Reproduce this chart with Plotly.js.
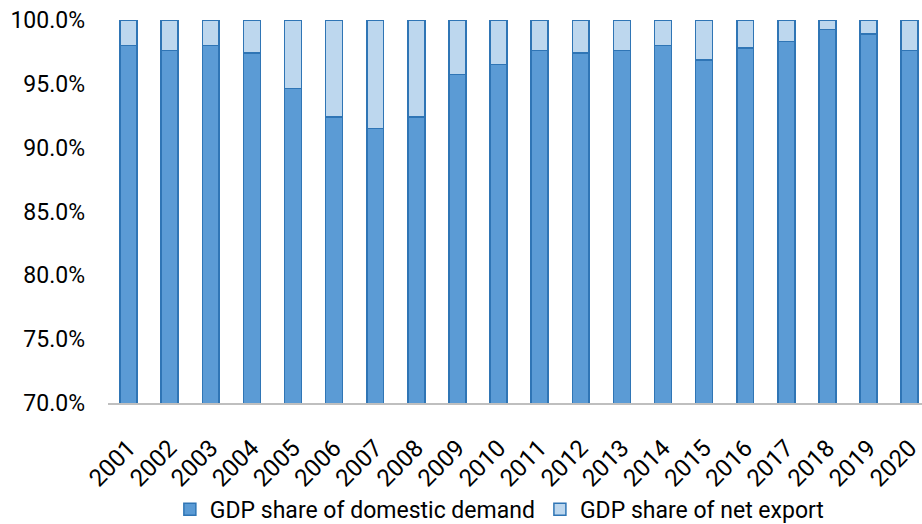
<!DOCTYPE html>
<html>
<head>
<meta charset="utf-8">
<script src="https://cdn.plot.ly/plotly-3.0.1.min.js"></script>
<style>html,body{margin:0;padding:0;background:#fff;}#chart{width:922px;height:524px;}</style>
</head>
<body>
<div id="chart"></div>
<script>
const years = ["2001","2002","2003","2004","2005","2006","2007","2008","2009","2010","2011","2012","2013","2014","2015","2016","2017","2018","2019","2020"];
const domesticDemand = [98.0, 97.6, 98.0, 97.4, 94.65, 92.4, 91.5, 92.4, 95.75, 96.5, 97.6, 97.4, 97.6, 98.0, 96.85, 97.8, 98.3, 99.25, 98.9, 97.6];
const netExport = [2.0, 2.4, 2.0, 2.6, 5.35, 7.6, 8.5, 7.6, 4.25, 3.5, 2.4, 2.6, 2.4, 2.0, 3.15, 2.2, 1.7, 0.75, 1.1, 2.4];
const seriesNames = ["GDP share of domestic demand", "GDP share of net export"];
const yTickVals = [70, 75, 80, 85, 90, 95, 100];
const yTickText = ["70.0%", "75.0%", "80.0%", "85.0%", "90.0%", "95.0%", "100.0%"];

const fontFamily = "Roboto, 'Liberation Sans', Arial, sans-serif";

const traces = [
  {
    type: "bar", x: years, y: domesticDemand, name: seriesNames[0],
    marker: {color: "#5b9bd5", line: {color: "#2f75b5", width: 1.5}},
    hoverinfo: "skip"
  },
  {
    type: "bar", x: years, y: netExport, name: seriesNames[1],
    marker: {color: "#bdd7ee", line: {color: "#2f75b5", width: 1.5}},
    hoverinfo: "skip"
  }
];

const layout = {
  width: 922, height: 524,
  margin: {l: 108, r: 0, t: 20, b: 121, autoexpand: false},
  barmode: "stack",
  bargap: 0.59,
  paper_bgcolor: "#fff", plot_bgcolor: "#fff",
  font: {family: fontFamily, color: "#000", size: 23},
  showlegend: true,
  legend: {orientation: "h", x: 0.4814, xanchor: "center", yref: "container", y: 0.028, yanchor: "middle",
           font: {size: 23, family: fontFamily, color: "#000"}, traceorder: "normal", itemwidth: 30},
  xaxis: {
    type: "category", range: [-0.5, 19.3],
    showgrid: false, zeroline: false,
    showline: true, linecolor: "#bfbfbf", linewidth: 1.5,
    ticks: "", tickangle: -45, ticklabelstandoff: 20,
    tickfont: {size: 24, family: fontFamily, color: "#000"}
  },
  yaxis: {
    range: [70, 100], showgrid: false, zeroline: false, showline: false,
    tickvals: yTickVals, ticktext: yTickText,
    ticklabelstandoff: 22,
    tickfont: {size: 23, family: fontFamily, color: "#000"}
  }
};

Plotly.newPlot("chart", traces, layout, {displayModeBar: false, staticPlot: true});
</script>
</body>
</html>
